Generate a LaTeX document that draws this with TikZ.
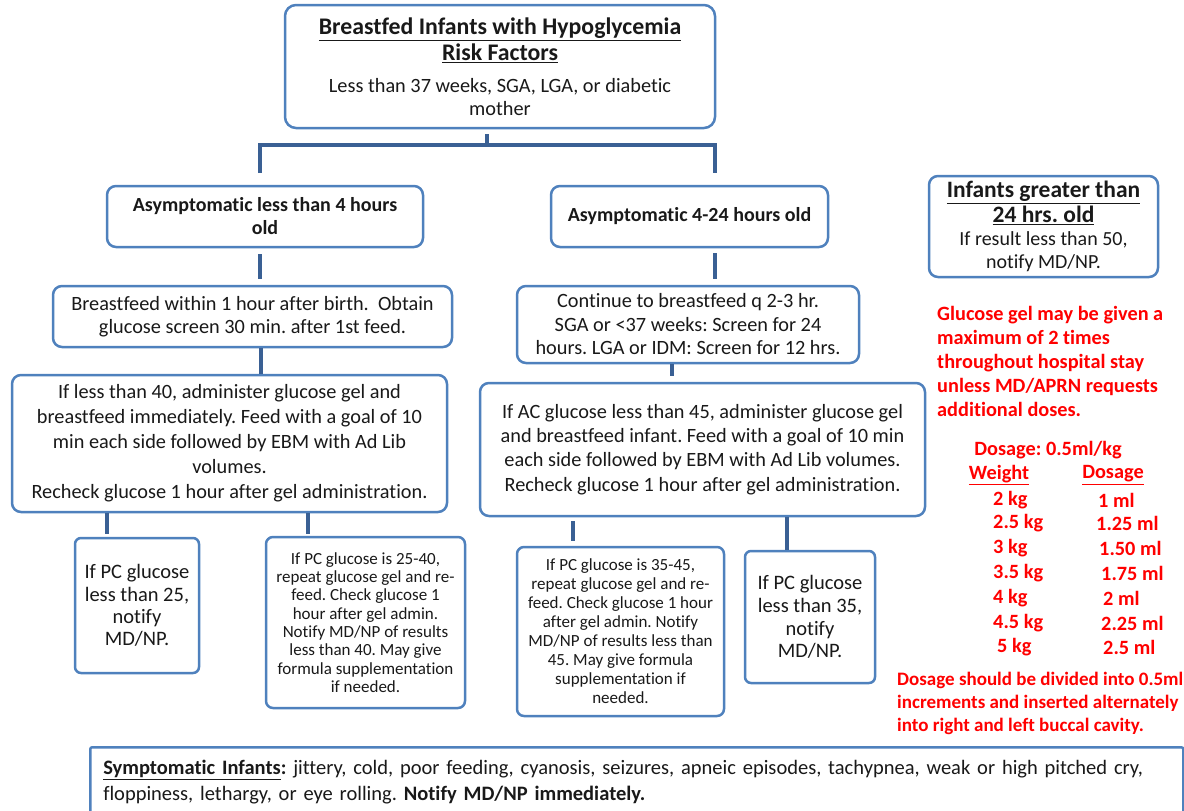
\documentclass[tikz,border=0pt]{standalone}
\usepackage{fontspec}
\setmainfont{Carlito}[Ligatures={NoCommon}]
\frenchspacing
\definecolor{boxblue}{RGB}{79,129,189}
\definecolor{linkblue}{RGB}{58,96,148}
\definecolor{inkgray}{RGB}{25,25,25}
\definecolor{alertred}{RGB}{255,0,0}
\newcommand{\pxfont}[2]{\fontsize{#1}{#2}\selectfont}
\begin{document}
\begin{tikzpicture}[x=1pt,y=-1pt,
  card/.style={draw=boxblue,line width=2.5pt,rounded corners=9pt,fill=white,align=center,inner sep=3pt,text=inkgray},
  link/.style={draw=linkblue,line width=4pt},
  note/.style={text=alertred,font=\bfseries\pxfont{20.3}{24},align=left,inner sep=0pt}]
\useasboundingbox (0,0) rectangle (1184,811);
\clip (0,0) rectangle (1184,811);
\node[card,minimum width=430,minimum height=123,rounded corners=11pt,font=\pxfont{20.3}{23}] (risk) at (500,66.5) {{\bfseries\pxfont{23.8}{26}\underline{Breastfed Infants with Hypoglycemia}}\\[3pt]{\bfseries\pxfont{23.8}{26}\underline{Risk Factors}}\\[9pt]Less than 37 weeks, SGA, LGA, or diabetic\\mother};
\node[card,minimum width=316,minimum height=61,font=\bfseries\pxfont{20}{23}] (young) at (265,216.5) {Asymptomatic less than 4 hours\\old};
\node[card,minimum width=277,minimum height=61,font=\bfseries\pxfont{20}{23}] (mid) at (689.5,216.5) {Asymptomatic 4-24 hours old};
\node[card,minimum width=399,minimum height=61,font=\pxfont{20.3}{23}] (feedA) at (252.5,316.5) {Breastfeed within 1 hour after birth.\ \ Obtain\\glucose screen 30 min. after 1st feed.};
\node[card,minimum width=342,minimum height=77,font=\pxfont{20.3}{23.5}] (feedB) at (688,324.5) {Continue to breastfeed q 2-3 hr.\\SGA or <37 weeks: Screen for 24\\hours. LGA or IDM: Screen for 12 hrs.};
\node[card,minimum width=435,minimum height=137,font=\pxfont{20.3}{25}] (gelA) at (229.5,443.5) {If less than 40, administer glucose gel and\\breastfeed immediately. Feed with a goal of 10\\min each side followed by EBM with Ad Lib\\volumes.\\Recheck glucose 1 hour after gel administration.};
\node[card,minimum width=445,minimum height=133,font=\pxfont{20.3}{24.3}] (gelB) at (702.5,449.5) {If AC glucose less than 45, administer glucose gel\\and breastfeed infant. Feed with a goal of 10 min\\each side followed by EBM with Ad Lib volumes.\\Recheck glucose 1 hour after gel administration.};
\node[card,minimum width=124,minimum height=135,rounded corners=6pt,font=\pxfont{20.5}{22.3}] (notifyA) at (137,605.5) {If PC glucose\\less than 25,\\notify\\MD/NP.};
\node[card,minimum width=199,minimum height=171,rounded corners=7pt,font=\pxfont{17}{18.3}] (repeatA) at (365.5,622.5) {If PC glucose is 25-40,\\repeat glucose gel and re-\\feed. Check glucose 1\\hour after gel admin.\\Notify MD/NP of results\\less than 40. May give\\formula supplementation\\if needed.};
\node[card,minimum width=207,minimum height=169,rounded corners=7pt,font=\pxfont{17}{19}] (repeatB) at (620.5,631.5) {If PC glucose is 35-45,\\repeat glucose gel and re-\\feed. Check glucose 1 hour\\after gel admin. Notify\\MD/NP of results less than\\45. May give formula\\supplementation if\\needed.};
\node[card,minimum width=130,minimum height=132,rounded corners=6pt,font=\pxfont{20.5}{22.7}] (notifyB) at (810,617) {If PC glucose\\less than 35,\\notify\\MD/NP.};
\node[card,minimum width=229,minimum height=101,font=\pxfont{20}{23}] (older) at (1043.5,226.5) {{\bfseries\pxfont{23.5}{25}\underline{Infants greater than}}\\[2pt]{\bfseries\pxfont{23.5}{25}\underline{24 hrs. old}}\\If result less than 50,\\notify MD/NP.};
\node[note,anchor=west] (limit) at (937,361.5) {Glucose gel may be given a\\maximum of 2 times\\throughout hospital stay\\unless MD/APRN requests\\additional doses.};
\node[note] (rate) at (1048,450) {Dosage: 0.5ml/kg};
\node[note] (wt) at (999,475) {\underline{Weight}};
\node[note] (vol) at (1113,475) {\underline{Dosage}};
\node[note,anchor=west] (w1) at (993,500) {2 kg};
\node[note,anchor=west] (w2) at (993,523) {2.5 kg};
\node[note,anchor=west] (w3) at (993,548) {3 kg};
\node[note,anchor=west] (w4) at (993,573) {3.5 kg};
\node[note,anchor=west] (w5) at (993,598) {4 kg};
\node[note,anchor=west] (w6) at (993,623) {4.5 kg};
\node[note,anchor=west] (w7) at (997,647) {5 kg};
\node[note,anchor=west] (d1) at (1098,500) {1 ml};
\node[note,anchor=west] (d2) at (1096,523) {1.25 ml};
\node[note,anchor=west] (d3) at (1099,548) {1.50 ml};
\node[note,anchor=west] (d4) at (1101,573) {1.75 ml};
\node[note,anchor=west] (d5) at (1103,598) {2 ml};
\node[note,anchor=west] (d6) at (1101,623) {2.25 ml};
\node[note,anchor=west] (d7) at (1103,647) {2.5 ml};
\node[note,anchor=west,font=\bfseries\pxfont{19}{23}] (buccal) at (897,703) {Dosage should be divided into 0.5ml\\increments and inserted alternately\\into right and left buccal cavity.};
\node[card,anchor=north west,minimum width=1093,text width=1067,align=left,inner xsep=13pt,inner ysep=13pt,rounded corners=2pt,font=\pxfont{20.5}{26}] (symptoms) at (89,746) {\textbf{\underline{Symptomatic Infants}:} jittery, cold, poor feeding, cyanosis, seizures, apneic episodes, tachypnea, weak or high pitched cry,\\floppiness, lethargy, or eye rolling. \textbf{Notify MD/NP immediately.}};
\coordinate (hub) at (487,145);
\coordinate (legL) at (260,173);
\coordinate (legR) at (715,173);
\coordinate (xA) at (261,0);
\coordinate (xB) at (672,0);
\coordinate (xC) at (107,0);
\coordinate (xD) at (308,0);
\coordinate (xE) at (573,0);
\coordinate (xF) at (787,0);
\draw[link,shorten <=5pt] (risk.south -| hub) -- (hub);
\draw[link] (legL) |- (hub) -| (legR);
\draw[link,shorten <=6pt,shorten >=6pt] (young.south -| legL) -- (feedA.north -| legL);
\draw[link] (feedA.south -| xA) -- (gelA.north -| xA);
\draw[link,shorten <=5pt,shorten >=6pt] (mid.south -| legR) -- (feedB.north -| legR);
\draw[link,shorten >=6pt] (feedB.south -| xB) -- (gelB.north -| xB);
\draw[link,shorten >=3pt] (gelA.south -| xC) -- (notifyA.north -| xC);
\draw[link,shorten >=2pt] (gelA.south -| xD) -- (repeatA.north -| xD);
\draw[link,shorten <=4pt,shorten >=5pt] (gelB.south -| xE) -- (repeatB.north -| xE);
\draw[link] (gelB.south -| xF) -- (notifyB.north -| xF);
\end{tikzpicture}
\end{document}
